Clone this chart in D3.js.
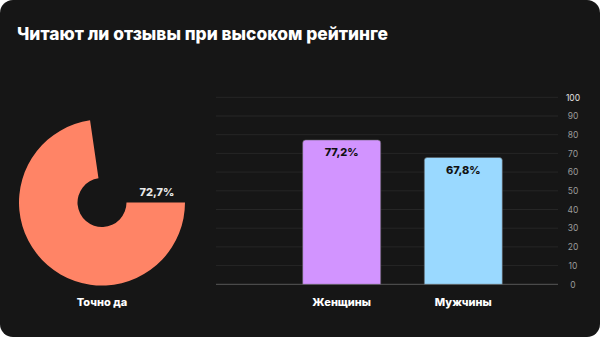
<!DOCTYPE html>
<html><head><meta charset="utf-8">
<script src="https://cdn.jsdelivr.net/npm/d3@7"></script>
<style>
html,body{margin:0;padding:0;background:#fff;}
svg{display:block;}
text{font-family:"Inter","Noto Sans",sans-serif;}
</style></head>
<body><svg id="c" width="600" height="337"></svg>
<script>
const title = "Читают ли отзывы при высоком рейтинге";
const pieLabel = "Точно да";
const pieValue = 72.7;
const categories = ["Женщины", "Мужчины"];
const values = [77.2, 67.8];
const barColors = ["#d294ff", "#9ad9ff"];
const yTicks = [0,10,20,30,40,50,60,70,80,90,100];
const fmt = v => d3.format(".1f")(v).replace(".", ",") + "%";

const svg = d3.select("#c");
svg.append("rect").attr("width",600).attr("height",337).attr("rx",13).attr("fill","#161616");

svg.append("text").attr("x",17).attr("y",40).attr("fill","#fff")
  .attr("font-size",17.5).attr("font-weight",800)
  .attr("textLength",371).attr("lengthAdjust","spacingAndGlyphs").text(title);

// donut
const cx = 102, cy = 202.5;
const arc = d3.arc().innerRadius(24.5).outerRadius(83);
const pie = d3.pie().sort(null).startAngle(Math.PI/2).endAngle(Math.PI/2 + 2*Math.PI);
const arcs = pie([pieValue, 100 - pieValue]);
svg.append("g").attr("transform",`translate(${cx},${cy})`)
  .append("path").attr("d", arc(arcs[0])).attr("fill","#ff8466");
svg.append("text").attr("x",157).attr("y",196).attr("text-anchor","middle")
  .attr("fill","#e8e8e8").attr("font-size",11).attr("font-weight",800).text(fmt(pieValue));
svg.append("text").attr("x",102).attr("y",306).attr("text-anchor","middle")
  .attr("fill","#fff").attr("font-size",11).attr("font-weight",800).text(pieLabel);

// bars
const y = d3.scaleLinear().domain([0,100]).range([284.3, 97.3]);
const x = d3.scaleBand().domain(categories).range([280.9, 524.1]).paddingInner(0.358).paddingOuter(0.179);
const gx0 = 216, gx1 = 558;
svg.append("g").selectAll("line").data(yTicks).join("line")
  .attr("x1",gx0).attr("x2",gx1).attr("y1",d=>y(d)).attr("y2",d=>y(d))
  .attr("stroke",d=>d===0?"#4a4a4a":"#262626").attr("stroke-width",d=>d===0?1.2:1);

const axis = d3.axisRight(y).tickValues(yTicks).tickSize(0).tickPadding(0);
const ga = svg.append("g").attr("transform",`translate(573,0)`).call(axis);
ga.select(".domain").remove();
ga.selectAll("text").attr("text-anchor","middle").attr("font-size",8.5)
  .attr("fill",d=>d===100?"#e0e0e0":"#9a9a9a").attr("font-family","Inter, sans-serif");

const r = 3;
function topRounded(x0, y0, w, h){
  return `M${x0},${y0+h}V${y0+r}Q${x0},${y0} ${x0+r},${y0}H${x0+w-r}Q${x0+w},${y0} ${x0+w},${y0+r}V${y0+h}Z`;
}
svg.append("g").selectAll("path").data(values).join("path")
  .attr("d",(d,i)=>topRounded(x(categories[i]), y(d), x.bandwidth(), y(0)-y(d)))
  .attr("fill",(d,i)=>barColors[i]).attr("stroke","#555").attr("stroke-width",0.6);
svg.append("g").selectAll("text").data(values).join("text")
  .attr("x",(d,i)=>x(categories[i])+x.bandwidth()/2).attr("y",d=>y(d)+16)
  .attr("text-anchor","middle").attr("fill","#111").attr("font-size",11).attr("font-weight",800)
  .text(d=>fmt(d));
svg.append("g").selectAll("text").data(categories).join("text")
  .attr("x",d=>x(d)+x.bandwidth()/2).attr("y",306).attr("text-anchor","middle")
  .attr("fill","#fff").attr("font-size",11).attr("font-weight",800).text(d=>d);
</script></body></html>
